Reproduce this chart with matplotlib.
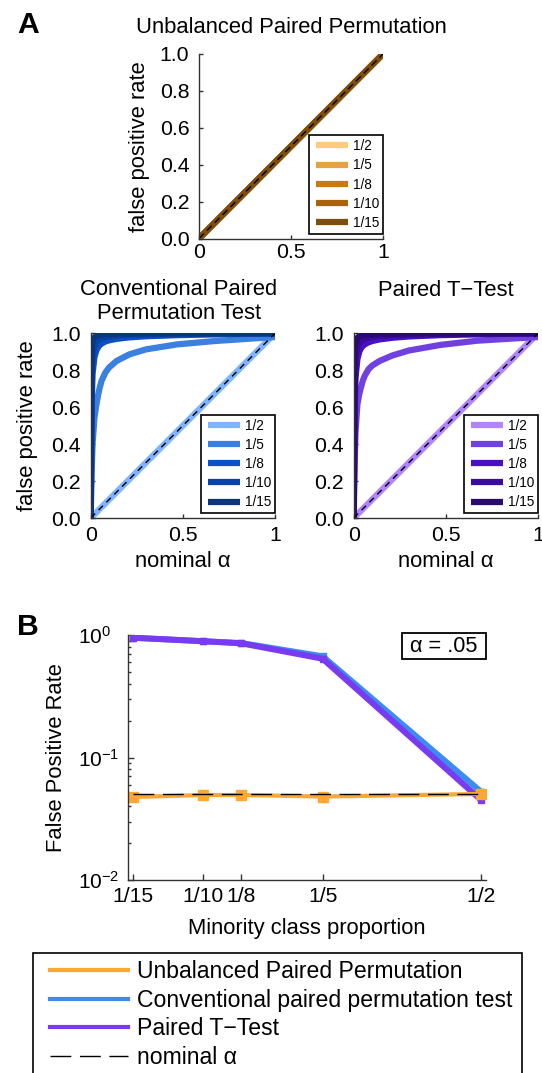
import matplotlib
matplotlib.use("Agg")
import matplotlib.pyplot as plt
from matplotlib.lines import Line2D
from matplotlib.patches import Rectangle
from matplotlib.legend_handler import HandlerLine2D
from matplotlib.ticker import LogLocator, NullFormatter, NullLocator

plt.rcParams["font.family"] = ["Liberation Sans", "DejaVu Sans"]
plt.rcParams["mathtext.fontset"] = "custom"
plt.rcParams["mathtext.rm"] = "Liberation Sans"
plt.rcParams["mathtext.it"] = "Liberation Sans:italic"
plt.rcParams["mathtext.bf"] = "Liberation Sans:bold"

# ---- data -----------------------------------------------------------------
class_labels = ["1/2", "1/5", "1/8", "1/10", "1/15"]

# panel A, top: unbalanced paired permutation (all on the diagonal)
unbal_alpha = [0.0, 0.25, 0.5, 0.75, 1.0]
unbal_fpr_1_2 = [0.0, 0.25, 0.5, 0.75, 1.0]
unbal_fpr_1_5 = [0.0, 0.25, 0.5, 0.75, 1.0]
unbal_fpr_1_8 = [0.0, 0.25, 0.5, 0.75, 1.0]
unbal_fpr_1_10 = [0.0, 0.25, 0.5, 0.75, 1.0]
unbal_fpr_1_15 = [0.0, 0.25, 0.5, 0.75, 1.0]

# panel A, middle: curves
roc_alpha = [0, 0.005, 0.01, 0.02, 0.03, 0.04, 0.05, 0.06, 0.08, 0.1, 0.14, 0.21, 0.3, 0.47, 0.67, 1.0]
conv_fpr_1_2 = [0, 0.005, 0.01, 0.02, 0.03, 0.04, 0.05, 0.06, 0.08, 0.1, 0.14, 0.21, 0.3, 0.47, 0.67, 1.0]
conv_fpr_1_5 = [0, 0.25, 0.40, 0.54, 0.61, 0.665, 0.71, 0.745, 0.788, 0.815, 0.85, 0.886, 0.913, 0.94, 0.958, 0.98]
conv_fpr_1_8 = [0, 0.62, 0.78, 0.87, 0.905, 0.925, 0.937, 0.945, 0.956, 0.962, 0.97, 0.978, 0.984, 0.99, 0.994, 1.0]
conv_fpr_1_10 = [0, 0.78, 0.88, 0.93, 0.95, 0.962, 0.968, 0.972, 0.978, 0.982, 0.987, 0.991, 0.994, 0.996, 0.998, 1.0]
conv_fpr_1_15 = [0, 0.92, 0.96, 0.978, 0.985, 0.989, 0.991, 0.992, 0.994, 0.995, 0.997, 0.998, 0.999, 1.0, 1.0, 1.0]

ttest_fpr_1_2 = [0, 0.005, 0.01, 0.02, 0.03, 0.04, 0.05, 0.06, 0.08, 0.1, 0.14, 0.21, 0.3, 0.47, 0.67, 1.0]
ttest_fpr_1_5 = [0, 0.30, 0.47, 0.615, 0.67, 0.71, 0.745, 0.77, 0.805, 0.825, 0.85, 0.88, 0.907, 0.937, 0.96, 0.98]
ttest_fpr_1_8 = [0, 0.60, 0.76, 0.86, 0.90, 0.92, 0.932, 0.94, 0.951, 0.958, 0.967, 0.976, 0.983, 0.99, 0.994, 1.0]
ttest_fpr_1_10 = [0, 0.76, 0.87, 0.925, 0.947, 0.96, 0.966, 0.97, 0.976, 0.98, 0.986, 0.99, 0.993, 0.996, 0.998, 1.0]
ttest_fpr_1_15 = [0, 0.90, 0.95, 0.975, 0.984, 0.988, 0.99, 0.991, 0.993, 0.995, 0.997, 0.998, 0.999, 1.0, 1.0, 1.0]

# panel B
minority_prop = [1 / 15, 1 / 10, 1 / 8, 1 / 5, 1 / 2]
minority_labels = ["1/15", "1/10", "1/8", "1/5", "1/2"]
fpr_unbalanced = [0.0476, 0.0494, 0.0494, 0.048, 0.0504]
fpr_conventional = [0.95, 0.89, 0.86, 0.67, 0.0526]
fpr_ttest = [0.95, 0.89, 0.855, 0.64, 0.045]
nominal_level = 0.05

# ---- style ----------------------------------------------------------------
BROWNS = ["#FFCC80", "#E6A23F", "#C97A12", "#A86311", "#7E4E0E"]
BLUES = ["#80B4FF", "#3A80E0", "#0A50C8", "#0A44A2", "#0A3582"]
PURPLES = ["#B085FF", "#7040E0", "#4A0FC2", "#3A0B9C", "#2A0A72"]
ORANGE, BLUE, PURPLE = "#FFA733", "#3A8CF0", "#7A3AF0"
SPINE = "#333333"

W, H = 542, 1073
fig = plt.figure(figsize=(W / 100, H / 100), dpi=100)


def add_axes_px(x0, y0, x1, y1):
    return fig.add_axes([x0 / W, 1 - y1 / H, (x1 - x0) / W, (y1 - y0) / H])


def style_roc(ax, xpad):
    ax.set_xlim(0, 1)
    ax.set_ylim(0, 1)
    ax.set_xticks([0, 0.5, 1], labels=["0", "0.5", "1"])
    ax.set_yticks([0, 0.2, 0.4, 0.6, 0.8, 1.0],
                  labels=["0.0", "0.2", "0.4", "0.6", "0.8", "1.0"])
    for side in ("top", "right"):
        ax.spines[side].set_visible(False)
    for side in ("left", "bottom"):
        ax.spines[side].set_color(SPINE)
        ax.spines[side].set_linewidth(1.0)
    ax.tick_params(direction="in", length=3, width=1, color=SPINE, labelsize=15.3)
    ax.tick_params(axis="y", pad=7)
    ax.tick_params(axis="x", pad=xpad)


def roc_legend(ax, handles):
    leg = ax.legend(handles, class_labels, loc="lower right",
                    bbox_to_anchor=(1.0, 4.5 / 184), borderaxespad=0,
                    fontsize=9.8, frameon=True, fancybox=False, framealpha=1,
                    edgecolor="black", borderpad=0.3, labelspacing=0.38,
                    handlelength=2.6, handletextpad=0.33,
                    handler_map={Line2D: HandlerLine2D(xpad=0.22)})
    leg.get_frame().set_linewidth(1.2)


def draw_roc(ax, alpha, series, colors, dashes):
    handles = []
    for ys, c in zip(series, colors):
        h, = ax.plot(alpha, ys, color=c, lw=4.5, solid_capstyle="butt")
        handles.append(h)
    ax.plot([0, 1], [0, 1], color="black", lw=1, dashes=dashes)
    return handles


# ---- top panel ------------------------------------------------------------
ax_top = add_axes_px(199, 54, 383, 238.5)
h = draw_roc(ax_top, unbal_alpha,
             [unbal_fpr_1_2, unbal_fpr_1_5, unbal_fpr_1_8, unbal_fpr_1_10, unbal_fpr_1_15],
             BROWNS, (5, 3))
style_roc(ax_top, 3.2)
roc_legend(ax_top, h)
ax_top.set_title("Unbalanced Paired Permutation", fontsize=15.8,
                 y=(238.5 - 32.8) / 184.5, pad=0)
ax_top.set_ylabel("false positive rate", fontsize=15.8, va="center")
ax_top.yaxis.set_label_coords((139.7 - 199) / 184, 0.5)

# ---- middle left ----------------------------------------------------------
ax_conv = add_axes_px(90.7, 333.3, 275, 518)
h = draw_roc(ax_conv, roc_alpha,
             [conv_fpr_1_2, conv_fpr_1_5, conv_fpr_1_8, conv_fpr_1_10, conv_fpr_1_15],
             BLUES, (4.5, 3.5))
style_roc(ax_conv, 6)
roc_legend(ax_conv, h)
ax_conv.set_ylabel("false positive rate", fontsize=15.8, va="center")
ax_conv.yaxis.set_label_coords((27.6 - 90.7) / 184.3, 0.5)
ax_conv.set_xlabel("nominal α", fontsize=15.8, va="center")
ax_conv.xaxis.set_label_coords(0.5, (518 - 561.5) / 184.7)
fig.text(178.8 / W, 1 - 301.6 / H, "Conventional Paired\nPermutation Test",
         fontsize=15.8, ha="center", va="center", linespacing=1.22)

# ---- middle right ---------------------------------------------------------
ax_tt = add_axes_px(353.7, 333.3, 538, 518)
h = draw_roc(ax_tt, roc_alpha,
             [ttest_fpr_1_2, ttest_fpr_1_5, ttest_fpr_1_8, ttest_fpr_1_10, ttest_fpr_1_15],
             PURPLES, (4.5, 3.5))
style_roc(ax_tt, 6)
roc_legend(ax_tt, h)
ax_tt.set_xlabel("nominal α", fontsize=15.8, va="center")
ax_tt.xaxis.set_label_coords(0.5, (518 - 561.5) / 184.7)
fig.text(445.6 / W, 1 - 296.1 / H, "Paired T\u2212Test", fontsize=15.8,
         ha="center", va="baseline")

# ---- panel B --------------------------------------------------------------
ax_b = add_axes_px(127.6, 635, 486.2, 880)
ax_b.plot(minority_prop, fpr_conventional, color=BLUE, lw=4.3, marker="s", ms=5)
ax_b.plot(minority_prop, fpr_ttest, color=PURPLE, lw=4.3, marker="s", ms=5)
ax_b.plot(minority_prop, fpr_unbalanced, color=ORANGE, lw=3, marker="s", ms=7)
ax_b.plot([minority_prop[0], minority_prop[-1]], [nominal_level, nominal_level],
          color="black", lw=1, dashes=(15, 6.2))
ax_b.set_xscale("log")
ax_b.set_yscale("log")
ax_b.set_xlim(0.0647, 0.5153)
ax_b.set_ylim(1e-2, 1e0)
ax_b.set_xticks(minority_prop, labels=minority_labels)
ax_b.xaxis.set_minor_locator(NullLocator())
ax_b.yaxis.set_major_locator(LogLocator(base=10, numticks=5))
ax_b.yaxis.set_minor_locator(LogLocator(base=10, subs=range(2, 10), numticks=12))
ax_b.yaxis.set_minor_formatter(NullFormatter())
for side in ("top", "right"):
    ax_b.spines[side].set_visible(False)
for side in ("left", "bottom"):
    ax_b.spines[side].set_color(SPINE)
    ax_b.spines[side].set_linewidth(1.0)
ax_b.tick_params(which="both", direction="in", color=SPINE, width=1)
ax_b.tick_params(which="major", length=4)
ax_b.tick_params(which="minor", length=2.5)
ax_b.tick_params(axis="x", labelsize=15.2, pad=4.7)
ax_b.tick_params(axis="y", labelsize=15, pad=36)
for lab in ax_b.get_yticklabels():
    lab.set_horizontalalignment("left")
ax_b.set_xlabel("Minority class proportion", fontsize=15.8, va="center")
ax_b.xaxis.set_label_coords(0.5, (880 - 928.3) / 245)
ax_b.set_ylabel("False Positive Rate", fontsize=15.8, va="center")
ax_b.yaxis.set_label_coords((56.9 - 127.6) / 358.6, 0.5)

ax_b.add_patch(Rectangle((0.7644, 0.9008), 0.2356, 0.1086, transform=ax_b.transAxes,
                         facecolor="white", edgecolor="black", lw=1.3, clip_on=False,
                         zorder=5))
ax_b.text(0.882, 0.955, "α = .05", transform=ax_b.transAxes, fontsize=15.7,
          ha="center", va="center", zorder=6)

# ---- panel letters --------------------------------------------------------
fig.text(17 / W, 1 - 33.3 / H, "A", fontsize=21.7, fontweight="bold", va="baseline")
fig.text(17 / W, 1 - 635 / H, "B", fontsize=21.7, fontweight="bold", va="baseline")

# ---- bottom legend --------------------------------------------------------
leg_handles = [
    Line2D([], [], color=ORANGE, lw=3),
    Line2D([], [], color=BLUE, lw=3),
    Line2D([], [], color=PURPLE, lw=3),
    Line2D([], [], color="black", lw=1, dashes=(15, 6.2)),
]
leg_labels = ["Unbalanced Paired Permutation", "Conventional paired permutation test",
              "Paired T\u2212Test", "nominal α"]
leg = fig.legend(leg_handles, leg_labels, loc="upper left",
                 bbox_to_anchor=(32.8 / W, 1 - 953.3 / H, (522.4 - 32.8) / W, 0.0),
                 mode="expand", borderaxespad=0, fontsize=16.6, frameon=True,
                 fancybox=False, framealpha=1, edgecolor="black", borderpad=0.3,
                 labelspacing=0.24, handlelength=3.84, handletextpad=0.37,
                 handler_map={Line2D: HandlerLine2D(xpad=0.43)})
leg.get_frame().set_linewidth(1.2)

fig.savefig("out.png", dpi=100)
